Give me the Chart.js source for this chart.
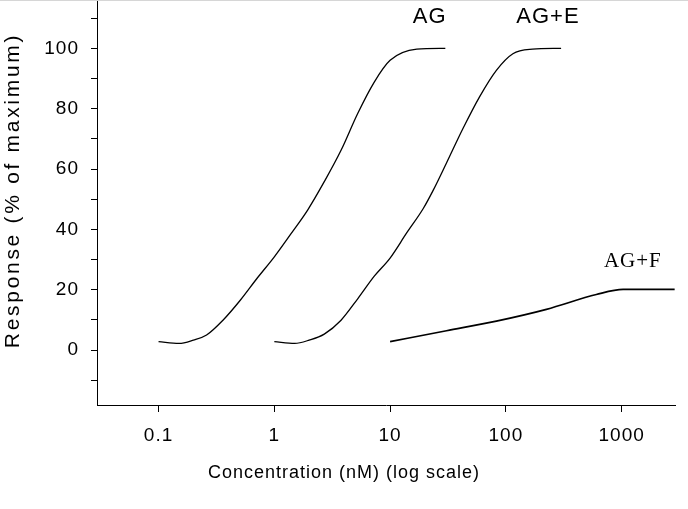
<!DOCTYPE html>
<html>
<head>
<meta charset="utf-8">
<script src="https://cdn.jsdelivr.net/npm/chart.js@4/dist/chart.umd.min.js"></script>
<style>
  html, body { margin: 0; padding: 0; background: #fff; }
  #wrap { position: relative; width: 688px; height: 509px; }
  #edge { position: absolute; left: 0; top: 0; width: 688px; height: 1px; background: #d6d6d6; }
</style>
</head>
<body>
<div id="wrap"><canvas id="chart" width="688" height="509"></canvas><div id="edge"></div></div>
<script>
// values (x in nM, y in % of maximum)
const agX = [0.1, 0.15, 0.2, 0.26, 0.36, 0.51, 0.71, 1.0, 1.39, 1.94, 2.7, 3.77, 5.25, 7.3, 10, 17, 30];
const agY = [2.8, 2.2, 3.3, 5.0, 9.9, 16.6, 23.8, 30.9, 38.5, 46.4, 55.8, 66.2, 78.4, 88.8, 96.0, 99.7, 100];

const ageX = [1.0, 1.5, 2.0, 2.7, 3.77, 5.25, 7.3, 10, 13.9, 19.4, 23.6, 30.7, 42.7, 59.4, 82.8, 115, 170, 300];
const ageY = [2.8, 2.2, 3.3, 5.3, 9.9, 17.0, 24.5, 30.5, 38.8, 47.0, 53.0, 62.0, 73.5, 84.0, 92.7, 98.2, 99.7, 100];

const agfX = [10, 30.7, 82.8, 224, 604, 1030, 2870];
const agfY = [2.8, 6.4, 9.6, 13.5, 18.4, 20.1, 20.1];

const xTicks = [0.1, 1, 10, 100, 1000];
const yTicks = [-10, 0, 10, 20, 30, 40, 50, 60, 70, 80, 90, 100, 110];
const yLabelled = [0, 20, 40, 60, 80, 100];

const curveNames = ['AG', 'AG+E', 'AG+F'];
const nameX = [22, 231, 1250];
const nameY = [110.4, 110.4, 29.2];

const pairs = (xs, ys) => xs.map((x, i) => ({ x: x, y: ys[i] }));

// y scale that spreads its title letters out like the original
class SpacedLinearScale extends Chart.LinearScale {
  drawTitle() {
    const ctx = this.ctx;
    ctx.save();
    ctx.letterSpacing = '2.7px';
    ctx.translate(0, -12);
    super.drawTitle();
    ctx.restore();
  }
}
SpacedLinearScale.id = 'spacedLinear';
SpacedLinearScale.defaults = Chart.LinearScale.defaults;

// x title in the original sits in the middle of the whole picture, not the plot
class CenteredLogScale extends Chart.LogarithmicScale {
  drawTitle() {
    const ctx = this.ctx;
    ctx.save();
    ctx.translate(this.chart.width / 2 - (this.left + this.right) / 2, 0);
    super.drawTitle();
    ctx.restore();
  }
}
CenteredLogScale.id = 'centeredLog';
CenteredLogScale.defaults = Chart.LogarithmicScale.defaults;

Chart.register(SpacedLinearScale, CenteredLogScale);

const spacing = {
  id: 'spacing',
  beforeDraw(chart) { chart.ctx.letterSpacing = '1px'; },
  afterDraw(chart) { chart.ctx.letterSpacing = '0px'; }
};

const curveLabels = {
  id: 'curveLabels',
  afterDatasetsDraw(chart) {
    const ctx = chart.ctx;
    const xs = chart.scales.x, ys = chart.scales.y;
    ctx.save();
    ctx.fillStyle = '#000';
    ctx.textAlign = 'center';
    ctx.textBaseline = 'middle';
    curveNames.forEach((name, i) => {
      ctx.font = i === 2 ? '21px "Liberation Serif"' : '22px "Liberation Sans"';
      ctx.fillText(name, xs.getPixelForValue(nameX[i]), ys.getPixelForValue(nameY[i]));
    });
    ctx.restore();
  }
};

const lineStyle = {
  borderColor: '#000',
  borderWidth: 1.3,
  pointRadius: 0,
  cubicInterpolationMode: 'monotone',
  fill: false
};

new Chart(document.getElementById('chart'), {
  type: 'line',
  data: {
    datasets: [
      { label: 'AG', data: pairs(agX, agY), ...lineStyle },
      { label: 'AG+E', data: pairs(ageX, ageY), ...lineStyle },
      { label: 'AG+F', data: pairs(agfX, agfY), ...lineStyle, borderWidth: 1.7 }
    ]
  },
  options: {
    responsive: false,
    devicePixelRatio: 1,
    animation: false,
    layout: { padding: { left: 0, right: 13, top: 0, bottom: 0 } },
    plugins: { legend: { display: false }, tooltip: { enabled: false } },
    scales: {
      x: {
        type: 'centeredLog',
        min: 0.0294,
        max: 2890,
        afterBuildTicks: s => { s.ticks = xTicks.map(v => ({ value: v })); },
        afterFit: s => { s.height = 104; s.paddingLeft = 0; s.paddingRight = 0; },
        grid: { drawOnChartArea: false, drawTicks: true, tickLength: 7, color: '#000' },
        border: { display: true, color: '#000', width: 1 },
        ticks: {
          color: '#000',
          font: { family: 'Liberation Sans', size: 19 },
          padding: 12,
          maxRotation: 0,
          autoSkip: false,
          callback: v => String(v)
        },
        title: {
          display: true,
          text: 'Concentration (nM) (log scale)',
          color: '#000',
          font: { family: 'Liberation Sans', size: 18 },
          padding: { top: 0, bottom: 25 }
        }
      },
      y: {
        type: 'spacedLinear',
        min: -18.2,
        max: 116,
        afterBuildTicks: s => { s.ticks = yTicks.map(v => ({ value: v })); },
        afterFit: s => { s.width = 97; s.paddingTop = 0; s.paddingBottom = 0; },
        grid: { drawOnChartArea: false, drawTicks: true, tickLength: 6, color: '#000' },
        border: { display: true, color: '#000', width: 1 },
        ticks: {
          color: '#000',
          font: { family: 'Liberation Sans', size: 19 },
          padding: 12,
          autoSkip: false,
          callback: v => yLabelled.includes(v) ? String(v) : ''
        },
        title: {
          display: true,
          text: 'Response (% of maximum)',
          color: '#000',
          font: { family: 'Liberation Sans', size: 21 },
          padding: { top: 1, bottom: 0 }
        }
      }
    }
  },
  plugins: [spacing, curveLabels]
});
</script>
</body>
</html>
